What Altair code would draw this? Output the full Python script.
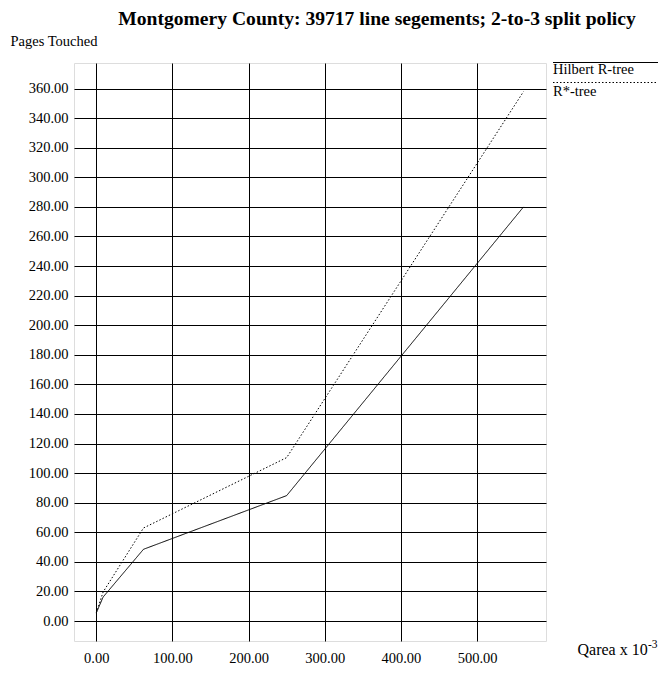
import altair as alt
import pandas as pd

# ---- data ----
qarea = [0, 9, 62, 250, 561]
hilbert = [5.4, 16.2, 48.5, 84.8, 280]
rstar = [5.4, 19.6, 62.9, 110.5, 358]
series_names = ["Hilbert R-tree", "R*-tree"]
x_ticks = [0, 100, 200, 300, 400, 500]
y_ticks = list(range(0, 361, 20))

df = pd.DataFrame({
    "qarea": qarea + qarea,
    "pages": hilbert + rstar,
    "series": [series_names[0]] * len(qarea) + [series_names[1]] * len(qarea),
})

FONT = "Liberation Serif"
FS = 14.5
W, H = 472, 578

x_enc = alt.X(
    "qarea:Q",
    scale=alt.Scale(domain=[-29.2, 590.5], nice=False, zero=False),
    axis=alt.Axis(
        values=x_ticks, format=".2f", grid=True, ticks=False, domain=False,
        labelPadding=10, labelFont=FONT, labelFontSize=FS, labelColor="black",
        gridColor="black", gridOpacity=1, gridWidth=1,
        title="Qarea x 10", titleFont=FONT, titleFontSize=16, titleFontWeight="normal",
        titleColor="black", titleX=503, titleY=13, titleAlign="left",
        titleBaseline="alphabetic", titleAnchor="start",
    ),
)
y_enc = alt.Y(
    "pages:Q",
    scale=alt.Scale(domain=[-13.5, 377.3], nice=False, zero=False),
    axis=alt.Axis(
        values=y_ticks, format=".2f", grid=True, ticks=False, domain=False,
        labelPadding=6, labelFont=FONT, labelFontSize=FS, labelColor="black",
        gridColor="black", gridOpacity=1, gridWidth=1,
        title="Pages Touched", titleFont=FONT, titleFontSize=FS, titleFontWeight="normal",
        titleColor="black", titleAngle=0, titleX=-64, titleY=-18, titleAlign="left",
        titleBaseline="alphabetic", titleAnchor="start",
    ),
)

lines = alt.Chart(df).mark_line(color="black", strokeWidth=1).encode(
    x=x_enc,
    y=y_enc,
    detail="series:N",
    strokeDash=alt.StrokeDash(
        "series:N",
        scale=alt.Scale(domain=series_names, range=[[1, 0], [1.5, 2]]),
        legend=None,
    ),
)

# ---- hand-drawn legend (line above the label) ----
leg_solid = pd.DataFrame({"label": [series_names[0]]})
leg_dot = pd.DataFrame({"label": [series_names[1]]})

rule1 = alt.Chart(leg_solid).mark_rule(color="black", strokeWidth=1).encode(
    x=alt.value(479), x2=alt.value(584), y=alt.value(-0.5)
)
rule2 = alt.Chart(leg_dot).mark_rule(color="black", strokeWidth=1, strokeDash=[1.5, 2]).encode(
    x=alt.value(479), x2=alt.value(584), y=alt.value(19.5)
)
text1 = alt.Chart(leg_solid).mark_text(
    align="left", baseline="alphabetic", font=FONT, fontSize=FS, color="black"
).encode(x=alt.value(479), y=alt.value(10.5), text="label:N")
text2 = alt.Chart(leg_dot).mark_text(
    align="left", baseline="alphabetic", font=FONT, fontSize=FS, color="black"
).encode(x=alt.value(479), y=alt.value(32.5), text="label:N")

sup = alt.Chart(pd.DataFrame({"t": ["-3"]})).mark_text(
    align="left", baseline="alphabetic", font=FONT, fontSize=11.5, color="black"
).encode(x=alt.value(574), y=alt.value(585), text="t:N")

chart = alt.layer(lines, rule1, rule2, text1, text2, sup).properties(
    width=W,
    height=H,
    title=alt.TitleParams(
        "Montgomery County: 39717 line segements; 2-to-3 split policy",
        font=FONT, fontSize=19.6, fontWeight="bold", color="black",
        anchor="middle", dx=67, offset=3,
    ),
    autosize=alt.AutoSizeParams(type="none"),
    padding={"left": 66, "top": 55, "right": 112, "bottom": 23},
).configure_view(stroke="#555555", strokeWidth=1.5).configure(background="white")

chart.save("out.html", embed_options={"renderer": "svg", "actions": False})
